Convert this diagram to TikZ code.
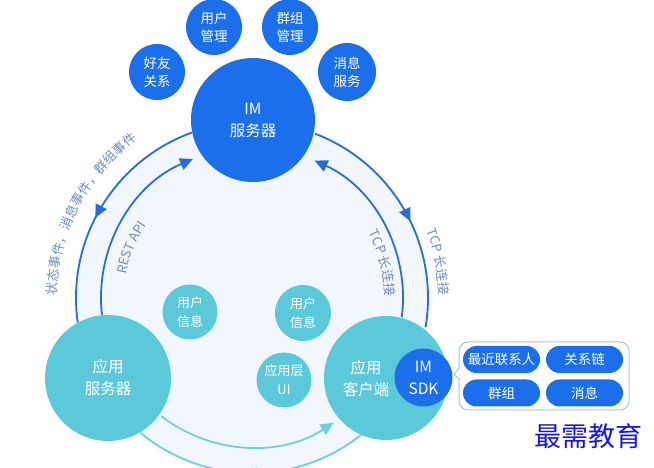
\documentclass[tikz,border=0pt]{standalone}
\usepackage{fontspec}
\setmainfont{Noto Sans CJK SC}
\usetikzlibrary{arrows.meta,decorations.markings,decorations.text,calc}
\definecolor{imblue}{HTML}{1B6FEB}
\definecolor{tealc}{HTML}{5BC9DA}
\definecolor{bgl}{HTML}{F2F7FD}
\definecolor{arcblue}{HTML}{2A6CD6}
\definecolor{arcteal}{HTML}{6FCFDD}
\definecolor{lbl}{HTML}{6D8CBE}
\definecolor{popb}{HTML}{A8C3EA}
\definecolor{wm}{HTML}{1414E6}
\newcommand\fsz[2]{\fontsize{#1}{#2}\selectfont}
\newcommand\lblfont{\fsz{13}{14}\color{lbl}}
\begin{document}
\begin{tikzpicture}[x=1pt,y=1pt,
  bluec/.style={circle, fill=imblue, text=white, inner sep=0pt, align=center},
  tealcirc/.style={circle, fill=tealc, text=white, inner sep=0pt, align=center},
  small/.style={minimum size=56pt, font=\fsz{13.5}{18}},
  pill/.style={rectangle, rounded corners=13.5pt, fill=imblue, text=white,
    minimum width=77pt, minimum height=27pt, inner sep=0pt, font=\fsz{13.5}{14}},
  bluearc/.style={draw=arcblue, line width=1.8pt},
  tealarc/.style={draw=arcteal, line width=1.8pt},
  tip/.style={-{Triangle[length=13pt,width=12pt]}},
  midarrow/.style={postaction={decorate}, decoration={markings,
    mark=at position #1 with {\arrow{Triangle[length=13pt,width=12pt]}}}},
  arclabel/.style={decorate, decoration={text along path, text align=center, text={|\lblfont|#1}}}
]
\useasboundingbox (0,0) rectangle (654,468);
\coordinate (C) at (252,170);
% background disc
\fill[bgl] (C) circle[radius=178];

% blue arcs
\draw[bluearc, midarrow=0.55, arcblue] ($(C)+(110:176)$) arc[start angle=110, end angle=188, radius=176];
\draw[bluearc, tip, arcblue] ($(C)+(186.5:151)$) arc[start angle=186.5, end angle=113, radius=151];
\draw[bluearc, midarrow=0.55, arcblue] ($(C)+(69:176)$) arc[start angle=69, end angle=-9.5, radius=176];
\draw[bluearc, tip, arcblue] ($(C)+(-7.2:151)$) arc[start angle=-7.2, end angle=65.5, radius=151];

% teal arcs
\draw[tealarc, tip, arcteal] ($(C)+(232.4:149)$) arc[start angle=232.4, end angle=303.2, radius=149];
\draw[tealarc, midarrow=0.53, arcteal] ($(C)+(308.7:175)$) arc[start angle=308.7, end angle=230.3, radius=175];

% arc labels
\path[arclabel={状态事件，消息事件，群组事件}] ($(C)+(190:195)$) arc[start angle=190, end angle=115, radius=195];
\path[arclabel={REST API}] ($(C)+(175:128)$) arc[start angle=175, end angle=140, radius=128];
\path[arclabel={TCP 长连接}] ($(C)+(40:133)$) arc[start angle=40, end angle=-10, radius=133];
\path[arclabel={TCP 长连接}] ($(C)+(30:187)$) arc[start angle=30, end angle=-8, radius=187];

% IM server and satellites
\node[bluec, minimum size=124pt, font=\fsz{15.5}{22}] (im) at (253,348) {IM\\服务器};
\node[bluec, small] (hy) at (157,396) {好友\\关系};
\node[bluec, small] (yh) at (214,441) {用户\\管理};
\node[bluec, small] (qz) at (290,441) {群组\\管理};
\node[bluec, small, minimum size=58pt] (xx) at (347,396) {消息\\服务};

% application side
\node[tealcirc, minimum size=126pt, font=\fsz{15.5}{22}] (srv) at (108,90) {应用\\服务器};
\node[tealcirc, minimum size=124pt] (cli) at (386,90) {};
\node[text=white, align=center, font=\fsz{15.5}{22}] (clitxt) at (366,89.5) {应用\\客户端};
\node[bluec, minimum size=58pt, font=\fsz{15.5}{22}] (sdk) at (423.5,90.5) {IM\\SDK};
\node[tealcirc, small, minimum size=55pt, font=\fsz{13}{19}] (ui1) at (190,156) {用户\\信息};
\node[tealcirc, small, font=\fsz{13}{19}] (ui2) at (303,155) {用户\\信息};
\node[tealcirc, small, minimum size=55pt, font=\fsz{13}{19}] (ui3) at (284,88) {应用层\\UI};

% popup
\node[draw=popb, line width=1pt, fill=white, rounded corners=9pt, minimum width=170pt,
  minimum height=68pt, inner sep=0pt] (pop) at (544,92) {};
\fill[white] (459.6,88.5) -- (454,94) -- (459.6,99.5) -- cycle;
\draw[popb, line width=1pt] (459,88.5) -- (454,94) -- (459,99.5);
\node[pill] (p1) at (501.5,108.5) {最近联系人};
\node[pill] (p2) at (584.5,108.5) {关系链};
\node[pill] (p3) at (501.5,75) {群组};
\node[pill] (p4) at (584.5,75) {消息};

% watermark
\node[text=wm, font=\fsz{27}{27}, inner sep=0pt] (wmk) at (588,32) {最需教育};
\end{tikzpicture}
\end{document}
